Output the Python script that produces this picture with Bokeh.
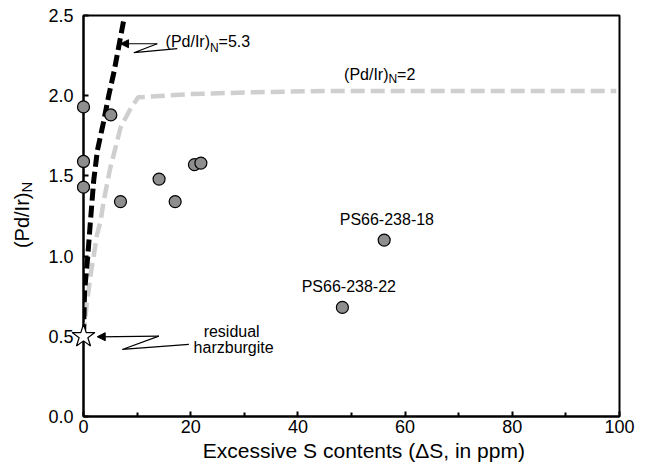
import math
from bokeh.plotting import figure
from bokeh.models import Range1d, FixedTicker, PrintfTickFormatter, Arrow, NormalHead
from bokeh.core.properties import value
from bokeh.embed import file_html
from bokeh.resources import INLINE

# ---- data ----
sample_x = [0, 0, 0, 5.1, 6.9, 14.1, 17.1, 20.7, 21.9, 56.1, 48.3]
sample_y = [1.93, 1.59, 1.43, 1.88, 1.34, 1.48, 1.34, 1.57, 1.58, 1.10, 0.68]

residual_x = [0]
residual_y = [0.5]

curve53_x = [0, 0.2, 0.8, 1.3, 1.9, 2.6, 3.7, 4.7, 5.7, 6.6, 7.5]
curve53_y = [0.5, 0.78, 1.0, 1.22, 1.47, 1.66, 1.83, 2.0, 2.15, 2.31, 2.47]

curve2_x = [0, 0.6, 1.4, 1.9, 2.5, 3.2, 3.8, 4.4, 5.0, 6.0, 6.9, 7.5, 8.8, 10.2, 20, 30, 45, 70, 99.4]
curve2_y = [0.5, 0.7, 0.9, 1.0, 1.13, 1.22, 1.35, 1.45, 1.55, 1.68, 1.80, 1.84, 1.92, 1.99, 2.01, 2.02, 2.03, 2.03, 2.03]

x_ticks = [0, 20, 40, 60, 80, 100]
x_minor = [10, 30, 50, 70, 90]
y_ticks = [0, 0.5, 1.0, 1.5, 2.0, 2.5]

sample_labels = ["PS66-238-18", "PS66-238-22"]
sample_label_x = [56.6, 49.5]
sample_label_y = [1.227, 0.813]

# squiggle leaders (data coords)
lead53_x = [17.5, 9.39, 13.76]
lead53_y = [2.293, 2.268, 2.324]
lead53_tip = (6.91, 2.324)
leadres_x = [19.66, 7.23, 14.06]
leadres_y = [0.450, 0.418, 0.501]
leadres_tip = (2.56, 0.497)

FONT = "Liberation Sans"

p = figure(width=645, height=466, x_range=Range1d(0, 100), y_range=Range1d(0, 2.5),
           output_backend="svg", toolbar_location=None,
           min_border_left=83, min_border_right=26, min_border_top=15, min_border_bottom=50)
p.xgrid.visible = False
p.ygrid.visible = False
p.outline_line_color = "black"
p.outline_line_width = 2
p.outline_line_alpha = 1.0
p.background_fill_color = "white"
p.border_fill_color = "white"

for ax in (p.xaxis[0], p.yaxis[0]):
    ax.axis_line_width = 2
    ax.axis_line_color = "black"
    ax.major_tick_in = 5
    ax.major_tick_out = 0
    ax.minor_tick_in = 4
    ax.minor_tick_out = 0
    ax.major_tick_line_width = 2
    ax.minor_tick_line_width = 2
    ax.major_tick_line_color = "black"
    ax.minor_tick_line_color = "black"
    ax.major_label_text_font = FONT
    ax.major_label_text_font_size = "18px"
    ax.major_label_text_color = "black"

p.xaxis.ticker = FixedTicker(ticks=x_ticks, minor_ticks=x_minor)
p.xaxis.major_label_standoff = 3
p.yaxis.ticker = FixedTicker(ticks=y_ticks, minor_ticks=[])
p.yaxis.formatter = PrintfTickFormatter(format="%.1f")
p.yaxis.major_label_standoff = 10

# curves
p.line(curve2_x, curve2_y, line_color="#cfcfcf", line_width=4.5, line_dash="14 6")
p.line(curve53_x, curve53_y, line_color="black", line_width=5, line_dash="12 5")

# leaders
p.line(lead53_x, lead53_y, line_color="black", line_width=1.2)
p.add_layout(Arrow(end=NormalHead(size=8, fill_color="black", line_color="black", line_width=1),
                   x_start=lead53_x[-1], y_start=lead53_y[-1],
                   x_end=lead53_tip[0], y_end=lead53_tip[1], line_width=1.2, line_color="black"))
p.line(leadres_x, leadres_y, line_color="black", line_width=1.2)
p.add_layout(Arrow(end=NormalHead(size=8, fill_color="black", line_color="black", line_width=1),
                   x_start=leadres_x[-1], y_start=leadres_y[-1],
                   x_end=leadres_tip[0], y_end=leadres_tip[1], line_width=1.2, line_color="black"))

# samples (overlay level so markers on the axis are not clipped)
p.scatter(sample_x, sample_y, marker="circle", size=12, fill_color="#8e8e8e",
          line_color="black", line_width=1.2, level="overlay")
p.scatter(residual_x, residual_y, marker="star", size=24, fill_color="white",
          line_color="black", line_width=1.2, level="overlay")

def txt(x, y, s, size="16px", align="left", angle=0.0, level="glyph"):
    p.text([x], [y], text=[s], text_font=value(FONT), text_font_size=value(size),
           text_align=align, text_baseline="middle", text_color="black",
           angle=angle, level=level)

# (Pd/Ir)N=5.3
txt(15.31, 2.338, "(Pd/Ir)")
txt(23.6, 2.298, "N", "12px")
txt(25.2, 2.338, "=5.3")
# (Pd/Ir)N=2
txt(48.61, 2.130, "(Pd/Ir)")
txt(56.9, 2.107, "N", "12px")
txt(58.5, 2.130, "=2")
# residual harzburgite
txt(27.64, 0.530, "residual", align="center")
txt(28.01, 0.430, "harzburgite", align="center")
# sample labels
for s, lx, ly in zip(sample_labels, sample_label_x, sample_label_y):
    txt(lx, ly, s, align="center")

# axis titles (drawn as overlay text outside the frame)
txt(52.3, -0.212, "Excessive S contents (\u0394S, in ppm)", "21px", align="center", level="overlay")
txt(-11.5, 1.05, "(Pd/Ir)", "20px", angle=math.pi / 2, level="overlay")
txt(-10.59, 1.397, "N", "15px", angle=math.pi / 2, level="overlay")

open("out.html", "w").write(file_html(p, INLINE))
